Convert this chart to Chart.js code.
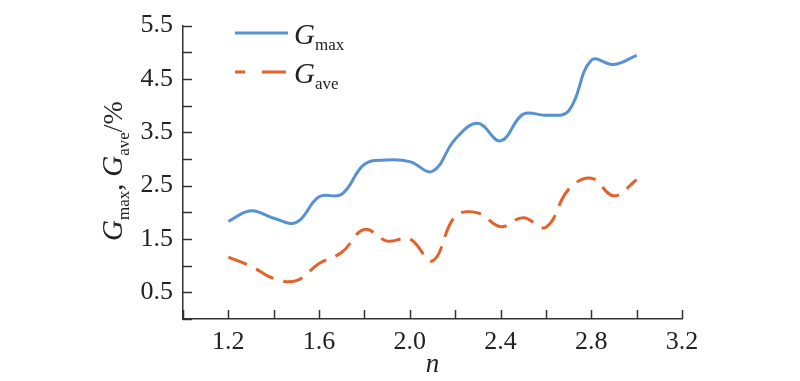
<!DOCTYPE html>
<html>
<head>
<meta charset="utf-8">
<script src="https://cdn.jsdelivr.net/npm/chart.js@4.4.0/dist/chart.umd.min.js"></script>
<style>
  html, body { margin: 0; padding: 0; background: #ffffff; }
  #wrap { width: 800px; height: 381px; position: relative; }
</style>
</head>
<body>
<div id="wrap"><canvas id="c" width="800" height="381"></canvas></div>
<script>
// ---- data ----
const nValues = [1.2, 1.3, 1.4, 1.5, 1.6, 1.7, 1.8, 1.9, 2.0, 2.1, 2.2, 2.3, 2.4, 2.5, 2.6, 2.7, 2.8, 2.9, 3.0];
const gMax = [1.83, 2.03, 1.89, 1.81, 2.29, 2.34, 2.90, 2.98, 2.95, 2.77, 3.37, 3.67, 3.34, 3.84, 3.82, 3.90, 4.85, 4.77, 4.94];
const gAve = [1.16, 0.99, 0.76, 0.72, 1.04, 1.25, 1.68, 1.46, 1.50, 1.09, 1.92, 1.99, 1.73, 1.90, 1.72, 2.43, 2.64, 2.31, 2.61];
const xTickLabels = ['1.2', '1.6', '2.0', '2.4', '2.8', '3.2'];
const yTickLabels = ['0.5', '1.5', '2.5', '3.5', '4.5', '5.5'];
const seriesNames = [['G', 'max'], ['G', 'ave']];

const BLUE = '#5791cf';
const ORANGE = '#e4612a';
const AXIS = '#333333';
const SERIF = '"Liberation Serif", "DejaVu Serif", serif';

const CA = { left: 183, right: 682, top: 16, bottom: 319 };
const W = 800, H = 381;

function toPoints(ys) { return nValues.map((x, i) => ({ x: x, y: ys[i] })); }

const decorPlugin = {
  id: 'decor',
  afterDraw(chart) {
    const ctx = chart.ctx;
    const xs = chart.scales.x, ys = chart.scales.y;
    ctx.save();
    // inward tick marks
    ctx.strokeStyle = AXIS;
    ctx.lineWidth = 1.5;
    ctx.beginPath();
    xs.ticks.forEach(t => {
      const px = Math.round(xs.getPixelForValue(t.value)) + 0.5;
      ctx.moveTo(px, ys.bottom);
      ctx.lineTo(px, ys.bottom - 9);
    });
    ys.ticks.forEach(t => {
      const py = Math.round(ys.getPixelForValue(t.value)) + 0.5;
      ctx.moveTo(xs.left, py);
      ctx.lineTo(xs.left + 9, py);
    });
    ctx.stroke();

    function drawRich(parts, x, y) {
      let cx = x;
      parts.forEach(p => {
        ctx.font = p.font;
        ctx.fillText(p.t, cx, y + (p.dy || 0));
        cx += ctx.measureText(p.t).width;
      });
    }
    function measureRich(parts) {
      let w = 0;
      parts.forEach(p => { ctx.font = p.font; w += ctx.measureText(p.t).width; });
      return w;
    }
    const fG = 'italic 29px ' + SERIF;
    const fSub = '17px ' + SERIF;
    const fN = '28px ' + SERIF;

    ctx.fillStyle = '#222222';
    ctx.textBaseline = 'alphabetic';
    ctx.textAlign = 'left';

    // y axis title
    const titleParts = [
      { t: seriesNames[0][0], font: fG },
      { t: seriesNames[0][1], font: fSub, dy: 7 },
      { t: ', ', font: fN },
      { t: seriesNames[1][0], font: fG },
      { t: seriesNames[1][1], font: fSub, dy: 7 },
      { t: '/%', font: fN }
    ];
    const tw = measureRich(titleParts);
    ctx.save();
    ctx.translate(122, 171);
    ctx.rotate(-Math.PI / 2);
    drawRich(titleParts, -tw / 2, 0);
    ctx.restore();

    // x axis title
    ctx.font = 'italic 27px ' + SERIF;
    ctx.textAlign = 'center';
    ctx.fillText('n', (xs.left + xs.right) / 2, 372);
    ctx.textAlign = 'left';

    // legend
    const ds = chart.data.datasets;
    const rows = [33, 72];
    ds.forEach((d, i) => {
      const y = rows[i];
      ctx.save();
      ctx.strokeStyle = d.borderColor;
      ctx.lineWidth = d.borderWidth;
      if (d.borderDash && d.borderDash.length) {
        ctx.setLineDash([24, 17]);
        ctx.lineDashOffset = 14;
      }
      ctx.beginPath();
      ctx.moveTo(235, y);
      ctx.lineTo(288, y);
      ctx.stroke();
      ctx.restore();
      drawRich([
        { t: seriesNames[i][0], font: fG },
        { t: seriesNames[i][1], font: fSub, dy: 6 }
      ], 294, y + 11);
    });
    ctx.restore();
  }
};

new Chart(document.getElementById('c'), {
  type: 'line',
  data: {
    datasets: [
      {
        label: 'Gmax',
        data: toPoints(gMax),
        borderColor: BLUE,
        backgroundColor: BLUE,
        borderWidth: 3,
        pointRadius: 0,
        tension: 0.4,
        fill: false
      },
      {
        label: 'Gave',
        data: toPoints(gAve),
        borderColor: ORANGE,
        backgroundColor: ORANGE,
        borderWidth: 3,
        borderDash: [20, 10],
        pointRadius: 0,
        tension: 0.4,
        fill: false
      }
    ]
  },
  options: {
    responsive: false,
    animation: false,
    devicePixelRatio: 1,
    layout: { padding: { left: 0, right: W - CA.right, top: CA.top, bottom: 0 } },
    plugins: { legend: { display: false }, tooltip: { enabled: false } },
    scales: {
      x: {
        type: 'linear',
        min: 1.0,
        max: 3.2,
        grid: { display: false, drawTicks: false },
        border: { display: true, color: AXIS, width: 1.5 },
        ticks: {
          stepSize: 0.2,
          padding: 8,
          color: '#222222',
          font: { family: SERIF, size: 26 },
          autoSkip: false,
          maxRotation: 0,
          callback: function (v) {
            const lab = (Math.round(v * 10) / 10).toFixed(1);
            return xTickLabels.includes(lab) ? lab : '';
          }
        },
        afterFit: function (s) { s.height = H - CA.bottom; }
      },
      y: {
        type: 'linear',
        min: 0,
        max: 5.5,
        grid: { display: false, drawTicks: false },
        border: { display: true, color: AXIS, width: 1.5 },
        ticks: {
          stepSize: 0.5,
          padding: 10,
          color: '#222222',
          font: { family: SERIF, size: 26 },
          autoSkip: false,
          callback: function (v) {
            const lab = (Math.round(v * 10) / 10).toFixed(1);
            return yTickLabels.includes(lab) ? lab : '';
          }
        },
        afterFit: function (s) { s.width = CA.left; }
      }
    }
  },
  plugins: [decorPlugin]
});
</script>
</body>
</html>
